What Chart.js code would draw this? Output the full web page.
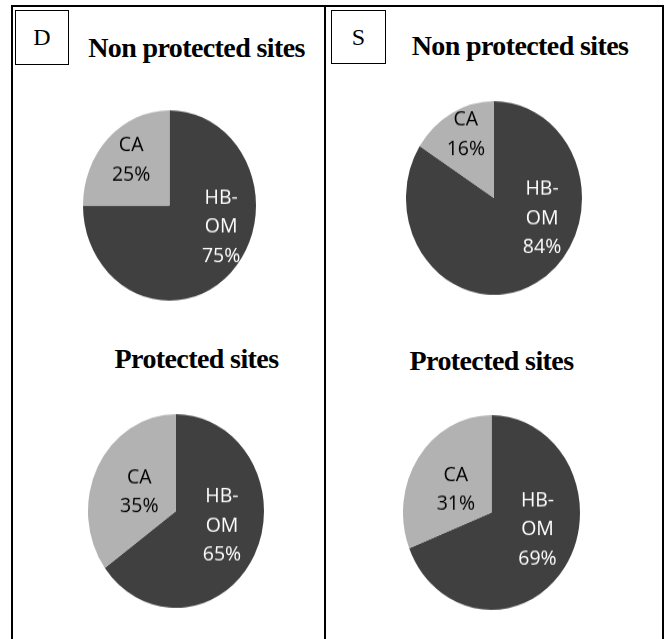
<!DOCTYPE html>
<html>
<head>
<meta charset="utf-8">
<script src="https://cdn.jsdelivr.net/npm/chart.js@4.4.0/dist/chart.umd.min.js"></script>
<style>
  html, body { margin: 0; padding: 0; background: #fff; }
  body { width: 665px; height: 639px; position: relative; overflow: hidden; }
  .frame { position: absolute; left: 11px; top: 5px; width: 649px; height: 700px; border: 2px solid #000; box-sizing: content-box; }
  .divider { position: absolute; left: 324px; top: 5px; width: 2px; height: 700px; background: #000; }
  .letter { position: absolute; border: 1.5px solid #000; box-sizing: border-box; display: flex; align-items: center; justify-content: center;
            font-family: "Liberation Serif", "Times New Roman", serif; font-size: 24px; color: #000; }
  .title { position: absolute; transform: translateX(-50%); white-space: nowrap; font-family: "Liberation Serif", "Times New Roman", serif;
           font-weight: bold; font-size: 28px; line-height: 28px; letter-spacing: -0.6px; color: #000; }
  .pie { position: absolute; transform: scaleY(1.1); transform-origin: 50% 50%; }
</style>
</head>
<body>
<div class="frame"></div>
<div class="divider"></div>
<div class="letter" id="letterD" style="left:15px;top:10px;width:54px;height:55px;"></div>
<div class="letter" id="letterS" style="left:331px;top:10px;width:55px;height:54px;"></div>
<div class="title" id="t0" style="left:196.5px;top:33.5px;"></div>
<div class="title" id="t1" style="left:520px;top:31.5px;"></div>
<div class="title" id="t2" style="left:196.5px;top:344.5px;"></div>
<div class="title" id="t3" style="left:491.5px;top:346.5px;"></div>
<div class="pie" id="p0"><canvas id="c0"></canvas></div>
<div class="pie" id="p1"><canvas id="c1"></canvas></div>
<div class="pie" id="p2"><canvas id="c2"></canvas></div>
<div class="pie" id="p3"><canvas id="c3"></canvas></div>
<script>
// ---- data ----
const categories = ['HB-OM', 'CA'];
const labelLines = [['HB-', 'OM'], ['CA']];
const panelLetters = ['D', 'S'];
const chartTitles = ['Non protected sites', 'Non protected sites', 'Protected sites', 'Protected sites'];
const dNonProtected = [75, 25];
const sNonProtected = [84, 16];
const dProtected = [65, 35];
const sProtected = [69, 31];

// ---- layout / style ----
const seriesList = [dNonProtected, sNonProtected, dProtected, sProtected];
const pieLayout = [
  { cx: 169.5, cy: 205,   size: 173 },
  { cx: 494,   cy: 197.5, size: 176 },
  { cx: 176,   cy: 511,   size: 176 },
  { cx: 491.5, cy: 512.5, size: 177 }
];
// label anchor per slice: [angle in degrees clockwise from 12 o'clock, fraction of radius]
const labelAnchors = [
  [[111, 0.64], [317, 0.65]],
  [[111, 0.585], [334, 0.73]],
  [[106.5, 0.545], [295, 0.46]],
  [[109, 0.55], [300, 0.465]]
];
const sliceColors = ['#404040', '#b2b2b2'];
const textColors = ['#ffffff', '#000000'];
const Y_STRETCH = 1.1;

document.getElementById('letterD').textContent = panelLetters[0];
document.getElementById('letterS').textContent = panelLetters[1];
chartTitles.forEach((t, i) => { document.getElementById('t' + i).textContent = t; });

const sliceLabelPlugin = {
  id: 'sliceLabels',
  afterDatasetsDraw(chart, args, opts) {
    const ctx = chart.ctx;
    const meta = chart.getDatasetMeta(0);
    const data = chart.data.datasets[0].data;
    meta.data.forEach((arc, i) => {
      const p = arc.getProps(['x', 'y', 'outerRadius'], true);
      const [deg, frac] = opts.anchors[i];
      const a = (deg - 90) * Math.PI / 180;
      const px = p.x + Math.cos(a) * p.outerRadius * frac;
      const py = p.y + Math.sin(a) * p.outerRadius * frac;
      const lines = labelLines[i].concat([data[i] + '%']);
      const lh = 29;
      ctx.save();
      ctx.translate(px, py);
      ctx.scale(1, 1 / Y_STRETCH);
      ctx.font = '19.5px "Open Sans", sans-serif';
      ctx.fillStyle = textColors[i];
      ctx.textAlign = 'center';
      ctx.textBaseline = 'middle';
      const start = -(lines.length - 1) * lh / 2;
      lines.forEach((ln, k) => ctx.fillText(ln, 0, start + k * lh));
      ctx.restore();
    });
  }
};

function build() {
  seriesList.forEach((vals, i) => {
    const L = pieLayout[i];
    const wrap = document.getElementById('p' + i);
    wrap.style.left = (L.cx - L.size / 2) + 'px';
    wrap.style.top = (L.cy - L.size / 2) + 'px';
    wrap.style.width = L.size + 'px';
    wrap.style.height = L.size + 'px';
    const cv = document.getElementById('c' + i);
    cv.style.width = L.size + 'px';
    cv.style.height = L.size + 'px';
    cv.width = L.size; cv.height = L.size;
    new Chart(cv, {
      type: 'pie',
      data: {
        labels: categories,
        datasets: [{ data: vals, backgroundColor: sliceColors, borderWidth: 0 }]
      },
      options: {
        responsive: false,
        animation: false,
        layout: { padding: 0 },
        plugins: {
          legend: { display: false },
          tooltip: { enabled: false },
          sliceLabels: { anchors: labelAnchors[i] }
        }
      },
      plugins: [sliceLabelPlugin]
    });
  });
}

if (document.fonts && document.fonts.load) {
  Promise.all([document.fonts.load('19px "Open Sans"'), document.fonts.load('bold 28px "Liberation Serif"')])
    .then(build, build);
} else { build(); }
</script>
</body>
</html>
